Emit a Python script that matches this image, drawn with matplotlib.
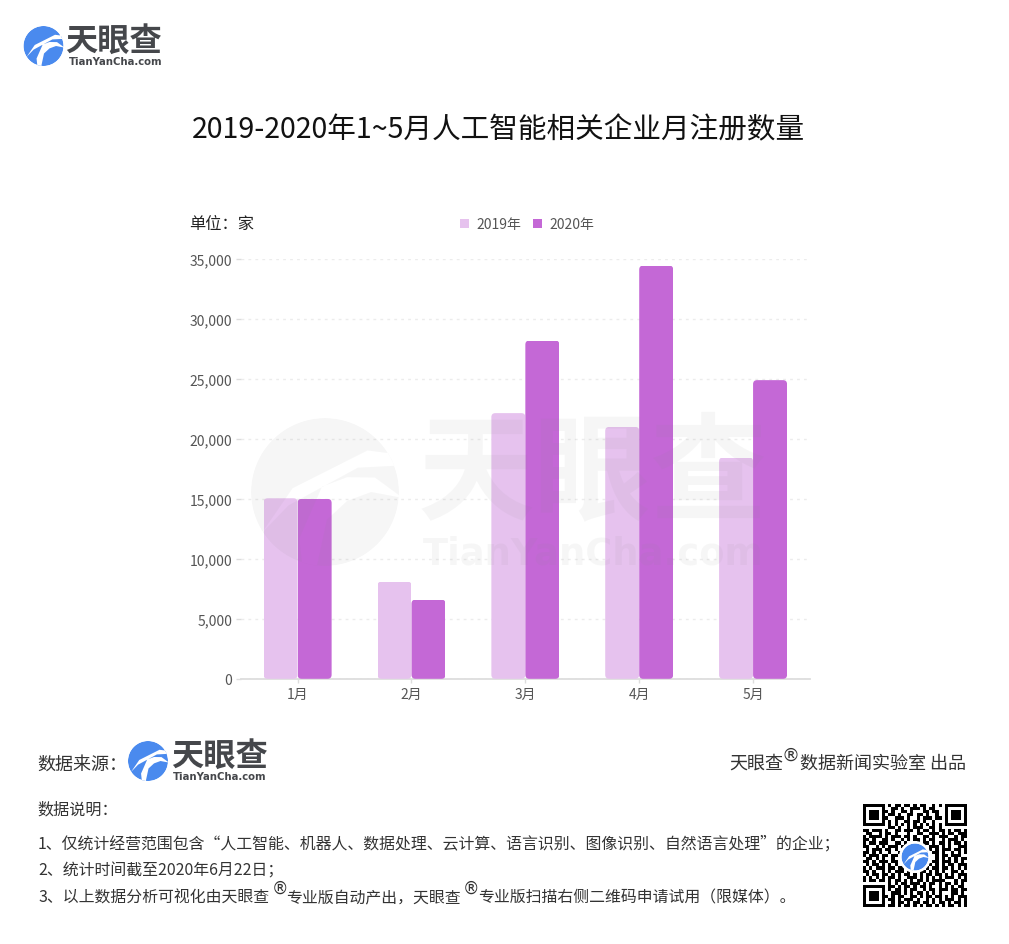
import numpy as np
import matplotlib
matplotlib.use("Agg")
import matplotlib.pyplot as plt
from matplotlib.patches import FancyBboxPatch, PathPatch, Circle
from matplotlib.path import Path
from matplotlib.transforms import IdentityTransform, Affine2D
from matplotlib.ticker import FuncFormatter

plt.rcParams['font.family'] = ['Noto Sans CJK SC', 'DejaVu Sans']

months = ['1月', '2月', '3月', '4月', '5月']
values_2019 = [15050, 8100, 22150, 21000, 18450]
values_2020 = [15000, 6600, 28200, 34450, 24900]
y_ticks = [0, 5000, 10000, 15000, 20000, 25000, 30000, 35000]
series_names = ['2019年', '2020年']
title = '2019-2020年1~5月人工智能相关企业月注册数量'
note_head = '数据说明：'
note_1 = '1、仅统计经营范围包含“人工智能、机器人、数据处理、云计算、语言识别、图像识别、自然语言处理”的企业；'
note_2 = '2、统计时间截至2020年6月22日；'
note_3 = ['3、以上数据分析可视化由天眼查', '专业版自动产出，天眼查', '专业版扫描右侧二维码申请试用（限媒体）。']

W, H = 1009, 945
C19, C20 = '#E6C2EE', '#C468D6'
BLUE = '#4A8AEE'
DARK = '#45474B'

fig = plt.figure(figsize=(W / 100, H / 100), dpi=100, facecolor='white')
ax = fig.add_axes([240.7 / W, 1 - 679.8 / H, (810 - 240.7) / W, 419.8 / H])
x = np.arange(len(months))
bw = 34 / 113.9
b19 = ax.bar(x - bw / 2, values_2019, bw, color=C19, label=series_names[0], zorder=3)
b20 = ax.bar(x + bw / 2, values_2020, bw, color=C20, label=series_names[1], zorder=3)
ax.set_xlim(-0.5, 4.5)
ax.set_ylim(0, 35000)
ax.set_yticks(y_ticks)
ax.yaxis.set_major_formatter(FuncFormatter(lambda v, _: f'{int(v):,}'))
ax.set_xticks(x)
ax.set_xticklabels(months)
ax.tick_params(axis='y', length=3.6, width=1, color='#dddddd', labelcolor='#555555', labelsize=10, pad=2.5)
ax.tick_params(axis='x', length=3, width=1, color='#dddddd', labelcolor='#555555', labelsize=10, pad=3)
for s in ['top', 'right', 'left']:
    ax.spines[s].set_visible(False)
ax.spines['bottom'].set_color('#dddddd')
ax.spines['bottom'].set_linewidth(1.3)
ax.grid(axis='y', color='#ececec', linewidth=1, linestyle=(0, (2, 3)), zorder=0)
ax.set_axisbelow(True)

fig.canvas.draw()
for bar in list(b19) + list(b20):
    e = bar.get_window_extent()
    clip = FancyBboxPatch((e.x0, e.y0), e.width, e.height,
                          boxstyle='round,pad=0,rounding_size=4',
                          transform=IdentityTransform())
    bar.set_clip_path(clip)

leg = ax.legend(ncol=2, frameon=False, fontsize=10, handlelength=0.62, handleheight=0.62,
                handletextpad=0.55, columnspacing=0.85, labelcolor='#555555', borderpad=0, borderaxespad=0,
                loc='center', bbox_to_anchor=(527.2 / W, 1 - 225.5 / H), bbox_transform=fig.transFigure)

ov = fig.add_axes([0, 0, 1, 1], facecolor='none', zorder=10)
ov.set_axis_off()


def disc_logo_path():
    t = np.linspace(0, 2 * np.pi, 120)
    circle = np.c_[np.cos(t), np.sin(t)]
    C4, M = Path.CURVE4, Path.MOVETO
    shapes = [
        # long thin swoosh from upper right to lower left
        [(1.05, 0.50), (0.45, 0.66), (-0.35, 0.35), (-0.85, -0.55),
         (-0.40, -0.05), (0.20, 0.40), (1.05, 0.36)],
        # inner band ending in a hook over the crescent
        [(-0.30, -1.05), (-0.42, -0.50), (-0.20, 0.12), (0.30, 0.20),
         (0.55, 0.24), (0.80, 0.15), (1.05, -0.08),
         (0.75, 0.00), (0.50, 0.00), (0.30, -0.12),
         (0.10, -0.15), (-0.05, -0.60), (-0.12, -1.05)],
    ]
    verts = [circle]
    for pts in shapes:
        codes = [M] + [C4] * (len(pts) - 1)
        poly = Path(pts, codes).to_polygons(closed_only=False)[0]
        xs, ys = poly[:, 0], poly[:, 1]
        area = np.sum(xs * np.roll(ys, -1) - np.roll(xs, -1) * ys)
        if area > 0:
            poly = poly[::-1]
        verts.append(poly)
    vv, cc = [], []
    for p in verts:
        vv.extend(p.tolist())
        cc.extend([Path.MOVETO] + [Path.LINETO] * (len(p) - 1))
    return Path(vv, cc)


LOGO = disc_logo_path()


def draw_disc(cx, cy, r, color, alpha=1.0, z=5):
    tr = Affine2D().scale(r, -r).translate(cx, cy) + ov.transData
    p = PathPatch(LOGO, facecolor=color, edgecolor='none', alpha=alpha, transform=tr, zorder=z)
    ov.add_patch(p)
    p.set_clip_path(Circle((cx, cy), r, transform=ov.transData))


def brand(cx, cy, r, text_x, cn_y, cn_size, en_x, en_y, en_size):
    draw_disc(cx, cy, r, BLUE)
    ov.text(text_x, cn_y, '天眼查', fontsize=cn_size, fontweight='bold', color=DARK, va='center', ha='left')
    ov.text(en_x, en_y, 'TianYanCha.com', fontsize=en_size, fontweight='bold', color=DARK,
            family='DejaVu Sans', va='center', ha='left')


ov.set_xlim(0, W)
ov.set_ylim(H, 0)

# watermark
draw_disc(325, 493, 74, '#888888', alpha=0.07, z=2)
ov.text(592.5, 476, '天眼查', fontsize=84, fontweight='bold', color='#888888', alpha=0.07, ha='center', va='center')
ov.text(593, 554, 'TianYanCha.com', fontsize=26.5, fontweight='bold', color='#888888', alpha=0.07,
        family='DejaVu Sans', ha='center', va='center')

brand(43.5, 47, 20, 65, 41, 23.2, 69, 62, 7.3)
brand(148, 762, 20, 171, 756, 23.2, 173, 777, 7.3)

ov.text(498.5, 130.5, title, fontsize=20.6, color='#111111', ha='center', va='center')
ov.text(189, 224, '单位：家', fontsize=11.7, color='#222222', ha='left', va='center')
ov.text(37, 764.5, '数据来源：', fontsize=13, color='#333333', ha='left', va='center')

TXT = '#333333'
ov.text(729, 764, '天眼查', fontsize=13, color=TXT, ha='left', va='center')
ov.text(791, 756, '®', fontsize=13, color=TXT, ha='center', va='center', family='DejaVu Sans')
ov.text(800, 764, '数据新闻实验室 出品', fontsize=13, color=TXT, ha='left', va='center')

ov.text(37, 810, note_head, fontsize=11.6, color=TXT, ha='left', va='center')
ov.text(38, 844, note_1, fontsize=11.45, color=TXT, ha='left', va='center')
ov.text(38, 871, note_2, fontsize=11.45, color=TXT, ha='left', va='center')
ov.text(38, 898, note_3[0], fontsize=11.45, color=TXT, ha='left', va='center')
ov.text(280, 889, '®', fontsize=12, color=TXT, ha='center', va='center', family='DejaVu Sans')
ov.text(286.5, 898, note_3[1], fontsize=11.45, color=TXT, ha='left', va='center')
ov.text(471, 889, '®', fontsize=12, color=TXT, ha='center', va='center', family='DejaVu Sans')
ov.text(478.5, 898, note_3[2], fontsize=11.45, color=TXT, ha='left', va='center')

qr_rows = [
    '#######.#.##.##.#.##..#.#.#######',
    '#.....#..##.#..###.#.##...#.....#',
    '#.###.##.#..##.#...##.##..#.###.#',
    '#.###.#.##.#..##.##.#..#..#.###.#',
    '#.###.##..###.#..#.###.##.#.###.#',
    '#.....#.#.#..##.##.#..#...#.....#',
    '#######.#.#.#.#.#.#.#.#.#.#######',
    '........##.#..#.###..##.#........',
    '##.###.#..##.###.#.##.#.##.#.##.#',
    '.##..#.##.#...#..##..###.#.##.###',
    '#.####.#.###.##.#..##.#.###..#.##',
    '##.#..##.#..#.#.##.#.##..#.###.#.',
    '#.##.###..##.#...#.##.#.##.#.##.#',
    '##..#.#.###.#......#.###.#.#..###',
    '.#.###.##.#..........#.#.###.##.#',
    '##.#.#..#..#..........##.#..#.#.#',
    '#.###.##.##............#.##.###..',
    '.##.#.#..#.............#.#.#.#.##',
    '##.#.###.##...........##.###.#.#.',
    '.#.##.#.#.#..........#.#.#.##.###',
    '#.#.###.##.##.......#.##.##.#.#.#',
    '##.#..#.#.###.#...##.#.#.#..##.#.',
    '.#.##.##.#.#.##.#.#.##.##.#.#.###',
    '#.#.#.#.##.#..###.#.#.#.#.###.#.#',
    '#.##.##.#.##.#.#.##.#.####...#.##',
    '........#.#.##.###.#.##.#.##.#.#.',
    '#######.##.#.##.#.##.#..#.#.#.##.',
    '#.....#.#.##.#.##..#.##.###.##.##',
    '#.###.#..###.#.#.##.#.#.#...##.#.',
    '#.###.##.#.##..##.#.##.##.#.#.###',
    '#.###.#.##.#.###.#..#.#.#.###.#.#',
    '#.....#..#.##.#.##.##.#.##.#.##.#',
    '#######.##.#.##.#.#.##.#.#.##.#.#',
]
qr = np.array([[0 if c == '#' else 1 for c in r.ljust(33, '.')[:33]] for r in qr_rows])
ov.imshow(qr, cmap='gray', vmin=0, vmax=1, extent=(863, 966.5, 908, 805), interpolation='nearest',
          aspect='auto', zorder=4)
ov.add_patch(Circle((915, 858), 16, facecolor='white', edgecolor='none', zorder=5))
draw_disc(915, 858, 13.5, BLUE, z=6)
ov.set_xlim(0, W)
ov.set_ylim(H, 0)

fig.savefig('out.png', dpi=100, facecolor='white')
